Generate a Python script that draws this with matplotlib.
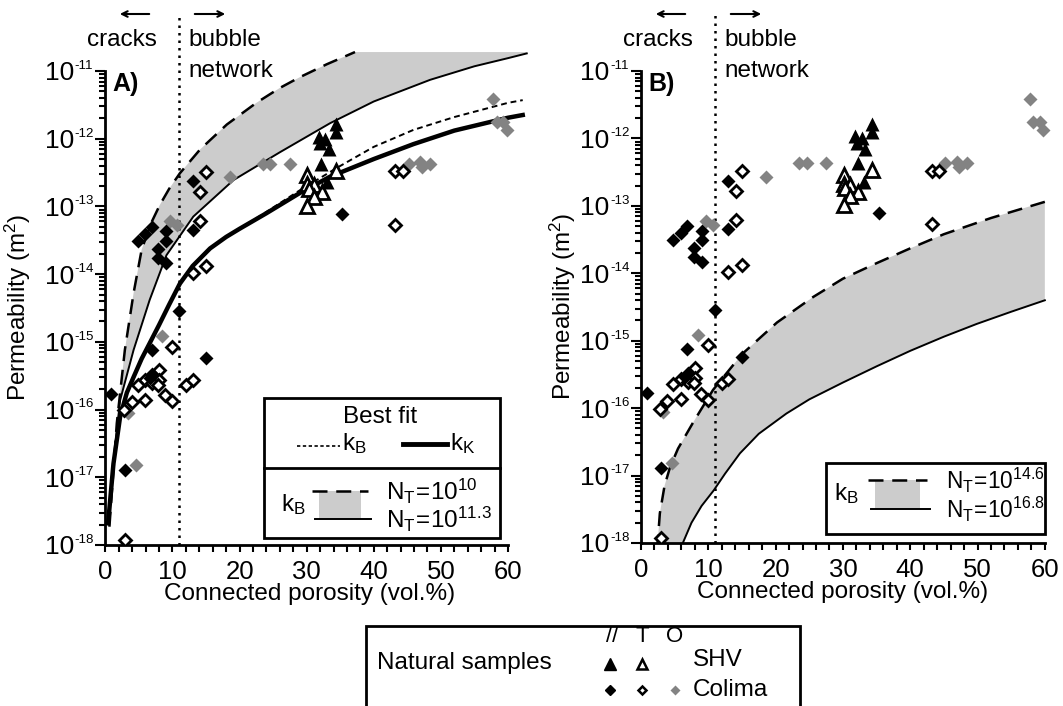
import matplotlib
matplotlib.use('Agg')
import matplotlib.pyplot as plt
import numpy as np
from matplotlib.patches import Rectangle
from matplotlib.lines import Line2D
from matplotlib.ticker import FixedLocator, NullFormatter, LogLocator

plt.rcParams['font.family'] = ['Liberation Sans', 'DejaVu Sans']
plt.rcParams['mathtext.fontset'] = 'custom'
plt.rcParams['mathtext.rm'] = 'Liberation Sans'
plt.rcParams['mathtext.it'] = 'Liberation Sans:italic'
plt.rcParams['mathtext.default'] = 'regular'

# ---- data (porosity in vol.%, log10 of permeability in m^2) ----
shv_par_x = [34.3, 34.3, 31.8, 32.8, 32.05, 33.3, 32.2, 33.1]
shv_par_y = [-11.78, -11.90, -11.97, -12.00, -12.07, -12.15, -12.37, -12.64]

shv_t_x = [30.1, 34.3, 30.1, 31.1, 30.3, 32.3, 31.1, 30.1]
shv_t_y = [-12.54, -12.47, -12.67, -12.69, -12.74, -12.79, -12.86, -12.99]

col_par_x = [0.9, 2.9, 4.8, 5.9, 6.9, 9.0, 9.0, 7.9, 7.9, 9.0, 13.0, 13.0,
             11.0, 6.9, 15.05, 7.0, 6.6, 35.3]
col_par_y = [-15.77, -16.89, -13.51, -13.40, -13.30, -13.37, -13.51, -13.63,
             -13.76, -13.83, -12.63, -13.35, -14.55, -15.12, -15.24, -15.48,
             -15.54, -13.11]

col_t_x = [15.05, 14.1, 14.1, 13.0, 15.05, 10.0, 8.0, 8.0, 5.9, 4.8, 7.0, 7.9,
           12.0, 13.0, 5.9, 8.9, 10.0, 3.9, 2.8, 2.9, 43.2, 44.3, 43.2]
col_t_y = [-12.49, -12.78, -13.21, -13.98, -13.88, -15.07, -15.41, -15.56,
           -15.57, -15.64, -15.61, -15.63, -15.63, -15.57, -15.86, -15.79,
           -15.88, -15.89, -16.01, -17.92, -12.48, -12.48, -13.27]

col_o_x = [18.6, 9.6, 10.65, 8.5, 3.3, 4.6, 23.5, 24.6, 27.5, 45.2, 46.9, 47.2,
           48.4, 57.8, 58.3, 59.3, 59.8]
col_o_y = [-12.57, -13.22, -13.28, -14.92, -16.05, -16.82, -12.37, -12.37,
           -12.37, -12.37, -12.35, -12.42, -12.37, -11.41, -11.75, -11.75, -11.87]

# panel A model curves
a_nt10_x = [0.6, 1.7, 2.9, 4.2, 5.4, 6.7, 8.1, 9.5, 11.1, 14.1, 18.1, 22.5,
            26.0, 29.0, 33.0, 37.2]
a_nt10_y = [-17.73, -16.2, -15.12, -14.28, -13.64, -13.27, -12.98, -12.74,
            -12.51, -12.16, -11.79, -11.47, -11.25, -11.09, -10.9, -10.72]
a_band_top = -10.72
a_band_right = 62.8

a_nt113_x = [0.9, 2.2, 4.2, 6.6, 9.1, 13.1, 19.1, 26.0, 33.5, 40.0, 48.4, 55.0, 60.0, 62.8]
a_nt113_y = [-17.04, -15.86, -15.12, -14.38, -13.72, -13.15, -12.61, -12.2,
             -11.77, -11.45, -11.13, -10.93, -10.81, -10.74]

kk_fit_x = [0.4, 1.2, 2.2, 3.2, 4.2, 5.4, 6.6, 8.0, 9.5, 11.1, 13.0, 15.6, 18.0,
            20.0, 24.0, 29.0, 33.5, 40.0, 45.9, 52.0, 60.0, 62.2]
kk_fit_y = [-17.68, -16.8, -16.1, -15.75, -15.52, -15.25, -15.02, -14.75, -14.45,
            -14.14, -13.88, -13.62, -13.45, -13.33, -13.1, -12.8, -12.56, -12.3,
            -12.08, -11.88, -11.69, -11.65]

kb_fit_x = [20.0, 24.0, 29.0, 34.5, 40.0, 45.9, 52.0, 60.0, 62.2]
kb_fit_y = [-13.33, -13.08, -12.76, -12.43, -12.12, -11.87, -11.68, -11.47, -11.43]

# panel B model curves
b_nt146_x = [2.4, 2.8, 3.5, 4.3, 5.5, 7.7, 10.7, 15.0, 20.2, 25.6, 30.0, 35.0,
             40.0, 45.0, 52.0, 60.0]
b_nt146_y = [-18.1, -17.56, -17.15, -16.88, -16.6, -16.22, -15.73, -15.2,
             -14.73, -14.35, -14.08, -13.85, -13.63, -13.42, -13.18, -12.94]

b_nt168_x = [6.0, 7.5, 9.0, 10.8, 12.5, 14.7, 17.5, 21.6, 25.0, 30.0, 35.0,
             40.0, 45.0, 49.9, 55.0, 60.0]
b_nt168_y = [-18.05, -17.7, -17.45, -17.22, -16.97, -16.67, -16.38, -16.08,
             -15.87, -15.62, -15.38, -15.15, -14.94, -14.75, -14.57, -14.4]

threshold = 11.0
decades = [-18, -17, -16, -15, -14, -13, -12, -11]

W, H = 1063, 706
FS = 17.5
fig = plt.figure(figsize=(W / 100, H / 100), dpi=100)


def fx(px):
    return px / W


def fy(py):
    return 1 - py / H


def p(v):
    return 10 ** np.asarray(v, dtype=float)


def setup_axes(ax, xmax):
    ax.set_yscale('log')
    ax.set_xlim(0, xmax)
    ax.set_ylim(1e-18, 10 ** -10.7)
    for s in ['top', 'right']:
        ax.spines[s].set_visible(False)
    ax.spines['left'].set_linewidth(2)
    ax.spines['bottom'].set_linewidth(2)
    ax.spines['left'].set_bounds(1e-18, 1e-11)
    ax.spines['bottom'].set_bounds(0, 60)
    ax.xaxis.set_major_locator(FixedLocator(np.arange(0, 61, 10)))
    ax.xaxis.set_minor_locator(FixedLocator(np.arange(0, 61, 2)))
    ax.yaxis.set_major_locator(FixedLocator([10.0 ** d for d in decades]))
    ax.yaxis.set_major_formatter(NullFormatter())
    ax.yaxis.set_minor_locator(LogLocator(base=10, subs=np.arange(2, 10), numticks=20))
    ax.yaxis.set_minor_formatter(NullFormatter())
    ax.tick_params(axis='both', which='both', direction='out', width=1.5)
    ax.tick_params(axis='y', which='major', length=7)
    ax.tick_params(axis='y', which='minor', length=4)
    ax.tick_params(axis='x', which='both', length=5, pad=6, labelsize=18.5)
    # decade labels: big "10" with a small hyphen exponent
    for d in decades:
        ax.annotate('10', xy=(0, 10.0 ** d), xycoords=('axes fraction', 'data'),
                    xytext=(-22.5, -6.8), textcoords='offset points',
                    ha='right', va='baseline', fontsize=19, annotation_clip=False)
        ax.annotate('%d' % d, xy=(0, 10.0 ** d), xycoords=('axes fraction', 'data'),
                    xytext=(-22.3, 1.5), textcoords='offset points',
                    ha='left', va='baseline', fontsize=9.5, annotation_clip=False)
    ax.set_xlabel('Connected porosity (vol.%)', fontsize=FS)
    ax.set_ylabel('Permeability (m$^2$)', fontsize=FS)
    ax.patch.set_alpha(0)


def draw_samples(ax):
    ax.plot(col_o_x, p(col_o_y), ls='none', marker='D', ms=7.5, color='#838383', mec='none', zorder=5)
    ax.plot(col_t_x, p(col_t_y), ls='none', marker='D', ms=6.2, mfc='white', mec='black', mew=2, zorder=6)
    ax.plot(col_par_x, p(col_par_y), ls='none', marker='D', ms=7.5, color='black', mec='none', zorder=6)
    ax.plot(shv_t_x, p(shv_t_y), ls='none', marker='^', ms=9.5, mfc='white', mec='black', mew=2, zorder=6)
    ax.plot(shv_par_x, p(shv_par_y), ls='none', marker='^', ms=10.5, color='black', mec='none', zorder=6)


def draw_threshold(ax):
    ax.plot([threshold, threshold], p([-18, -10.17]), ls=(0, (1, 2)), color='black', lw=1.8,
            clip_on=False, zorder=3)


def header(x0, label):
    # arrows and regime names above each panel (pixel positions)
    fig.add_artist(plt.Annotation('', xy=(fx(x0 + 12), fy(14)), xytext=(fx(x0 + 47), fy(14)),
                                  xycoords='figure fraction',
                                  arrowprops=dict(arrowstyle='->', lw=1.5, color='black')))
    fig.add_artist(plt.Annotation('', xy=(fx(x0 + 123), fy(14)), xytext=(fx(x0 + 87), fy(14)),
                                  xycoords='figure fraction',
                                  arrowprops=dict(arrowstyle='->', lw=1.5, color='black')))
    fig.text(fx(x0 + 52), fy(40), 'cracks', ha='right', va='center', fontsize=FS)
    fig.text(fx(x0 + 83), fy(40), 'bubble', ha='left', va='center', fontsize=FS)
    fig.text(fx(x0 + 83), fy(71), 'network', ha='left', va='center', fontsize=FS)
    fig.text(fx(x0 + 7), fy(84), label, ha='left', va='center', fontsize=18, fontweight='bold')


# ---------------- panel A ----------------
axA = fig.add_axes([fx(105.4), fy(545), (528.1 - 105.4) / W, (545 - 50.7) / H])
setup_axes(axA, 63)
bandA_x = list(a_nt10_x) + [a_band_right] + list(a_nt113_x[::-1])
bandA_y = list(a_nt10_y) + [a_band_top] + list(a_nt113_y[::-1])
axA.fill(bandA_x, p(bandA_y), color='#cccccc', lw=0, zorder=1)
axA.plot(a_nt10_x, p(a_nt10_y), color='black', lw=1.8, ls=(0, (6, 3.5)), zorder=2, clip_on=False)
axA.plot(a_nt113_x, p(a_nt113_y), color='black', lw=1.4, zorder=2, clip_on=False)
axA.plot(kb_fit_x, p(kb_fit_y), color='black', lw=1.4, ls=(0, (3, 2)), zorder=2)
axA.plot(kk_fit_x, p(kk_fit_y), color='black', lw=3.2, zorder=2)
draw_threshold(axA)
draw_samples(axA)
axA.xaxis.set_label_coords((310 - 105.4) / 422.7, -0.077)
axA.yaxis.set_label_coords(-0.171, 0.48)
header(105, 'A)')

# ---------------- panel B ----------------
axB = fig.add_axes([fx(641), fy(543), (1058.3 - 641) / W, (543 - 50.8) / H])
setup_axes(axB, 62)
bandB_x = list(b_nt146_x) + list(b_nt168_x[::-1])
bandB_y = list(b_nt146_y) + list(b_nt168_y[::-1])
axB.fill(bandB_x, p(bandB_y), color='#cccccc', lw=0, zorder=1)
axB.plot(b_nt146_x, p(b_nt146_y), color='black', lw=1.8, ls=(0, (6, 3.5)), zorder=2)
axB.plot(b_nt168_x, p(b_nt168_y), color='black', lw=1.4, zorder=2)
draw_threshold(axB)
draw_samples(axB)
axB.xaxis.set_label_coords((843 - 641) / 417.3, -0.077)
axB.yaxis.set_label_coords(-0.151, 0.48)
header(641, 'B)')


# ---------------- custom legends ----------------
def box(x0, y0, x1, y1, lw=2):
    fig.add_artist(Rectangle((fx(x0), fy(y1)), (x1 - x0) / W, (y1 - y0) / H,
                             fill=False, lw=lw, ec='black', transform=fig.transFigure))


def hline(x0, x1, y, **kw):
    fig.add_artist(Line2D([fx(x0), fx(x1)], [fy(y), fy(y)], transform=fig.transFigure, **kw))


def band_key(x0, x1, y0, y1, ltop, lbot, tx, fs):
    fig.add_artist(Rectangle((fx(x0 + 7), fy(y1)), (x1 - x0 - 14) / W, (y1 - y0) / H,
                             fc='#cccccc', ec='none', transform=fig.transFigure))
    hline(x0, x1, y0, color='black', lw=1.8, ls=(0, (6, 3.5)))
    hline(x0 + 3, x1 + 3, y1, color='black', lw=1.4)
    fig.text(fx(tx), fy(y0), ltop, ha='left', va='center', fontsize=fs)
    fig.text(fx(tx), fy(y1), lbot, ha='left', va='center', fontsize=fs)


# panel A legend
box(264, 398, 500, 538)
hline(264, 500, 468, color='black', lw=2)
fig.text(fx(380), fy(417), 'Best fit', ha='center', va='center', fontsize=FS)
hline(297, 340, 446, color='black', lw=1.2, ls=(0, (2, 1.5)))
fig.text(fx(342), fy(444), r'$k_B$', ha='left', va='center', fontsize=FS)
hline(403, 447, 444, color='black', lw=3.5)
fig.text(fx(450), fy(444), r'$k_K$', ha='left', va='center', fontsize=FS)
fig.text(fx(281), fy(505), r'$k_B$', ha='left', va='center', fontsize=FS)
band_key(312, 368, 491, 519, r'$N_T\!=\!10^{10}$', r'$N_T\!=\!10^{11.3}$', 386, FS)

# panel B legend
box(826, 463, 1045, 534)
fig.text(fx(834), fy(494), r'$k_B$', ha='left', va='center', fontsize=FS)
band_key(868, 927, 480, 509, r'$N_T\!=\!10^{14.6}$', r'$N_T\!=\!10^{16.8}$', 946, 16.3)

# natural samples legend (box runs off the bottom edge)
box(366, 626, 800, 740)
fig.text(fx(377), fy(663), 'Natural samples', ha='left', va='center', fontsize=FS)
fig.text(fx(612), fy(636), '//', ha='center', va='center', fontsize=16)
fig.text(fx(642), fy(636), 'T', ha='center', va='center', fontsize=16)
fig.text(fx(675), fy(636), 'O', ha='center', va='center', fontsize=16)
fig.text(fx(693), fy(660), 'SHV', ha='left', va='center', fontsize=FS)
fig.text(fx(693), fy(690), 'Colima', ha='left', va='center', fontsize=FS)
for mx, my, mk, kw in [
    (610, 664, '^', dict(color='black', ms=8)),
    (642, 664, '^', dict(mfc='white', mec='black', mew=1.8, ms=7.5)),
    (610, 690, 'D', dict(color='black', ms=5)),
    (642, 690, 'D', dict(mfc='white', mec='black', mew=1.8, ms=4.5)),
    (675, 690, 'D', dict(color='#838383', mec='none', ms=5.5)),
]:
    fig.add_artist(Line2D([fx(mx)], [fy(my)], marker=mk, ls='none',
                          transform=fig.transFigure, **kw))

fig.savefig('out.png', dpi=100)
